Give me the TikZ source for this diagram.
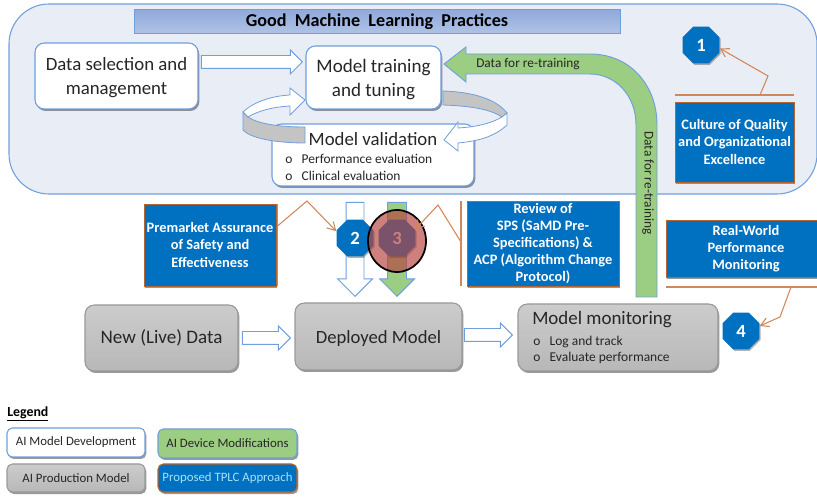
\documentclass[tikz,border=0pt]{standalone}
\usepackage{fontspec}
\setmainfont{Carlito}
\usetikzlibrary{arrows.meta,positioning,shapes.geometric,shapes.arrows,shadows}
\definecolor{panelfill}{HTML}{E9EDF6}
\definecolor{edgeblue}{HTML}{6F9FDC}
\definecolor{titletop}{HTML}{8FA9DB}
\definecolor{titlebottom}{HTML}{B0C3E6}
\definecolor{tplcblue}{HTML}{0070C0}
\definecolor{tplcedge}{HTML}{B5652F}
\definecolor{linebrown}{HTML}{D2875A}
\definecolor{modgreen}{HTML}{9BCE82}
\definecolor{ribbongray}{HTML}{C4C4C4}
\definecolor{inktext}{HTML}{262626}
\definecolor{markred}{HTML}{B54440}
\def\px{0.75pt}
\newcommand{\fs}[2]{\fontsize{#1}{#2}\selectfont}
\newcommand{\nudge}[1]{\rule{0pt}{#1}}
\tikzset{
    softshadow/.style={drop shadow={shadow xshift=1pt,shadow yshift=-1.5pt,opacity=.4,fill=black}},
    devbox/.style={draw=edgeblue,line width=.8pt,fill=white,rounded corners=7pt,softshadow,text=inktext,align=center,inner sep=0pt},
    prodbox/.style={draw=black!40,line width=.8pt,top color=black!20,bottom color=black!28,rounded corners=7pt,softshadow,text=inktext,align=center,inner sep=0pt},
    tplcbox/.style={draw=tplcedge,line width=.6pt,fill=tplcblue,softshadow,text=white,align=center,inner sep=0pt,font=\bfseries\fs{10.8}{12.9}},
    tplcnum/.style={regular polygon,regular polygon sides=8,fill=tplcblue,minimum size=40*\px,inner sep=0pt,text=white,font=\bfseries\fs{14}{16},drop shadow={shadow xshift=.8pt,shadow yshift=-1pt,opacity=.3,fill=black}},
    hollowarrow/.style={single arrow,draw=edgeblue,line width=.7pt,fill=white,inner sep=6*\px,single arrow head extend=5.5*\px,anchor=tip},
    tplcline/.style={draw=linebrown,line width=.8pt},
    ribbon/.style={draw=edgeblue,line width=.6pt},
    listtext/.style={text=inktext,align=left,inner sep=0pt,anchor=west,font=\fs{10.1}{12.6}},
    legendtext/.style={font=\fs{9.6}{11}}
}
\begin{document}
\begin{tikzpicture}[x=0.75pt,y=-0.75pt]
    \useasboundingbox (0,0) rectangle (817,498);
    % practices panel
    \node[draw=edgeblue,line width=.8pt,fill=panelfill,rounded corners=30pt,minimum width=808*\px,minimum height=190*\px] (panel) at (413,99) {};
    \node[draw=edgeblue,line width=.6pt,top color=titletop,bottom color=titlebottom,minimum width=486*\px,minimum height=23*\px,text=black,font=\bfseries\fs{13.6}{14}] (gmlp) at (377,21.5) {Good\ \ Machine\ \ Learning\ \ Practices};

    % development boxes
    \node[devbox,minimum width=163*\px,minimum height=66*\px,font=\fs{14.1}{18}] (dataselect) at (116.5,76) {\nudge{12.5pt}Data selection and\\management};
    \node[devbox,minimum width=135*\px,minimum height=63*\px,font=\fs{14.3}{18}] (training) at (373.5,77.5) {\nudge{12.5pt}Model training\\and tuning};
    \node[devbox,minimum width=202*\px,minimum height=62*\px] (validation) at (373,155) {};
    \node[text=inktext,font=\fs{14.1}{15}] (validtitle) at (373,139) {Model validation};
    \node[listtext] (validlist) at (285,167) {o\hspace{7pt}Performance evaluation\\o\hspace{7pt}Clinical evaluation};

    % loop round the validation box
    \draw[ribbon,fill=ribbongray] (243,112) -- (243,130) .. controls (250,138) and (275,143) .. (305,143) -- (305,127) .. controls (280,127) and (258,124) .. (248,117) -- cycle;
    \draw[ribbon,fill=white] (243,112) .. controls (252,103) and (270,96) .. (290,95) -- (290,88) -- (305,100) -- (290,115) -- (290,106) .. controls (272,107) and (258,111) .. (248,117) -- cycle;
    \draw[ribbon,fill=ribbongray] (443,91) .. controls (475,92) and (497,100) .. (507,113) -- (502,117) .. controls (490,109) and (470,106) .. (443,105) -- cycle;
    \draw[ribbon,fill=white] (507,113) -- (507,125) .. controls (495,136) and (480,141) .. (458,143) -- (458,151) -- (444,140) -- (458,122) -- (458,128) .. controls (475,127) and (490,124) .. (502,117) -- cycle;

    % retraining arrow
    \draw[draw=edgeblue,line width=.7pt,fill=modgreen] (444,64) -- (466,47) -- (466,54) -- (590,54) .. controls (630,54) and (657,85) .. (657,125) -- (657,297) -- (636,297) -- (636,125) .. controls (636,95) and (615,74) .. (590,74) -- (466,74) -- (466,82) -- cycle;
    \node[text=inktext,font=\fs{10}{11}] (retrainh) at (528,64) {Data for re-training};
    \node[text=inktext,rotate=-90,font=\fs{10}{11}] (retrainv) at (648,183) {Data for re-training};

    \node[hollowarrow,minimum width=23*\px,minimum height=101*\px] (arrowselect) at (303,62) {};

    % production row
    \node[prodbox,minimum width=153*\px,minimum height=66*\px,font=\fs{14.3}{15}] (livedata) at (161.5,338) {New (Live) Data};
    \node[prodbox,minimum width=167*\px,minimum height=67*\px,font=\fs{14}{15}] (deployed) at (378.5,336.5) {\nudge{13pt}Deployed Model};
    \node[prodbox,minimum width=200*\px,minimum height=67*\px] (monitoring) at (618,337.5) {};
    \node[text=inktext,anchor=west,inner sep=0pt,font=\fs{14.2}{15}] (montitle) at (532,320) {Model monitoring};
    \node[listtext] (monlist) at (533,350) {o\hspace{7pt}Log and track\\o\hspace{7pt}Evaluate performance};
    \node[hollowarrow,minimum width=23*\px,minimum height=48*\px] (arrowlive) at (291,338) {};
    \node[hollowarrow,minimum width=23*\px,minimum height=48*\px] (arrowdeploy) at (513,335) {};

    % premarket arrows
    \node[hollowarrow,rotate=-90,minimum width=34*\px,minimum height=94*\px,single arrow head extend=8.5*\px,inner sep=8.5*\px] (arrowwhite) at (355,297) {};
    \node[hollowarrow,rotate=-90,fill=modgreen,minimum width=34*\px,minimum height=94*\px,single arrow head extend=8*\px,inner sep=9*\px] (arrowgreen) at (397,297) {};

    % TPLC boxes
    \node[tplcbox,minimum width=119*\px,minimum height=80*\px] (culture) at (734.5,142) {Culture of Quality\\and Organizational\\Excellence};
    \node[tplcbox,minimum width=132*\px,minimum height=82*\px] (premarket) at (210,245) {Premarket Assurance\\of Safety and\\Effectiveness};
    \node[tplcbox,minimum width=152*\px,minimum height=85*\px] (review) at (543,243.5) {Review of\\SPS (SaMD Pre-\\Specifications) \&\\ACP (Algorithm Change\\Protocol)};
    \node[tplcbox,minimum width=160*\px,minimum height=57*\px] (realworld) at (746,248.5) {Real-World\\Performance\\Monitoring};

    % numbered markers
    \node[tplcnum] (numone) at (701,45) {1};
    \node[tplcnum] (numtwo) at (355,238) {2};
    \node[tplcnum] (numthree) at (397,238) {3};
    \node[tplcnum] (numfour) at (741,331) {4};
    \node[ellipse,draw=black,line width=1.3pt,fill=markred,fill opacity=.68,minimum width=58*\px,minimum height=62*\px,inner sep=0pt] (highlight) at (397,241) {};

    % brackets and their leaders
    \coordinate (bracketa) at (675,95);
    \coordinate (bracketb) at (794,95);
    \coordinate (bracketc) at (277.5,204);
    \coordinate (bracketd) at (277.5,286);
    \coordinate (brackete) at (461,201);
    \coordinate (bracketf) at (461,286);
    \coordinate (bracketg) at (666,287);
    \coordinate (bracketh) at (817,287);
    \draw[tplcline] (bracketa) -- (bracketb);
    \draw[tplcline] (bracketc) -- (bracketd);
    \draw[tplcline] (brackete) -- (bracketf);
    \draw[tplcline] (bracketg) -- (bracketh);
    \draw[tplcline,-{Straight Barb[length=6pt,width=7pt]}] (760,95) -- (768,76) -- (numone.-10);
    \draw[tplcline,-{Straight Barb[length=6pt,width=7pt]}] (277.5,226) -- (307,201) -- (numtwo.160);
    \draw[tplcline,-{Straight Barb[length=6pt,width=7pt]}] (461,242) -- (438,205) -- (numthree.25);
    \draw[tplcline,-{Straight Barb[length=6pt,width=7pt]}] (791,287) -- (780,317) -- (numfour.15);

    % legend
    \node[anchor=west,inner sep=0pt,text=black,font=\bfseries\fs{10.4}{11}] (legendhead) at (7,414) {\underline{Legend}};
    \node[devbox,rounded corners=4pt,minimum width=138*\px,minimum height=29*\px,legendtext] (legenddev) at (76,442.5) {AI Model Development};
    \node[prodbox,rounded corners=4pt,minimum width=138*\px,minimum height=28*\px,legendtext] (legendprod) at (76,478) {AI Production Model};
    \node[devbox,rounded corners=4pt,fill=modgreen,minimum width=139*\px,minimum height=29*\px,legendtext] (legendmod) at (227.5,443.5) {AI Device Modifications};
    \node[devbox,rounded corners=4pt,draw=tplcedge,fill=tplcblue,text=cyan!35!white,minimum width=139*\px,minimum height=28*\px,legendtext] (legendtplc) at (227.5,478) {Proposed TPLC Approach};
\end{tikzpicture}
\end{document}
